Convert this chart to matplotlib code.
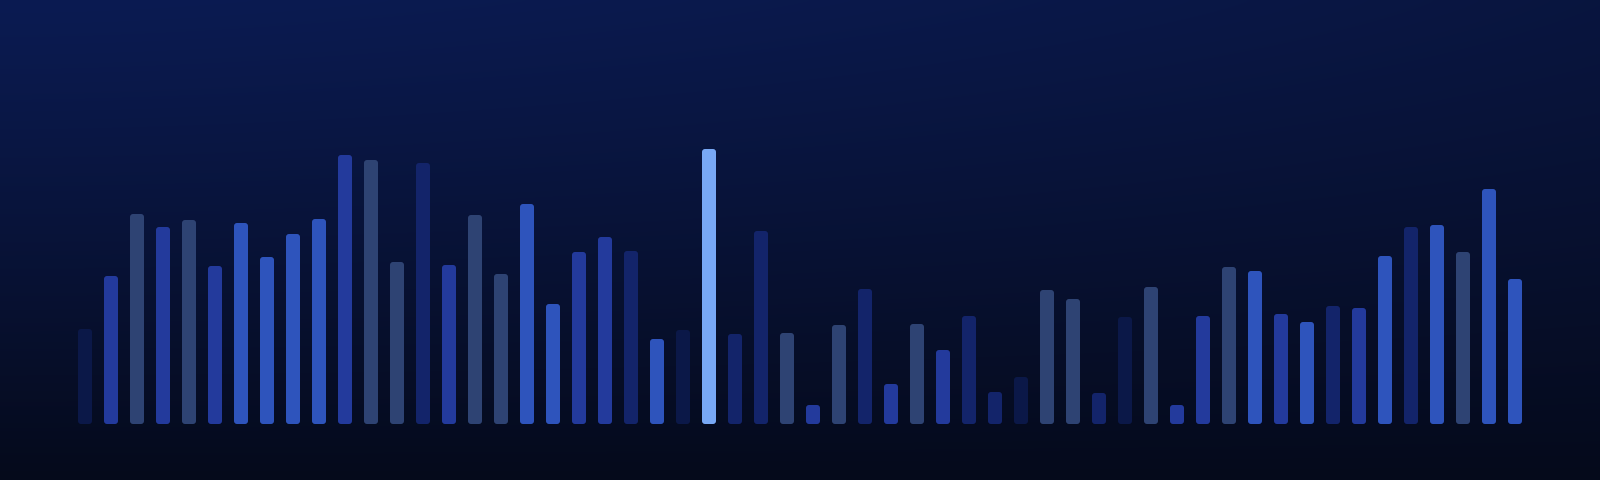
import numpy as np
import matplotlib
matplotlib.use("Agg")
import matplotlib.pyplot as plt
from matplotlib.patches import FancyBboxPatch
from matplotlib.colors import to_rgb

# ---- data ----
values = [95, 148, 210, 197, 204, 158, 201, 167, 190, 205,
          269, 264, 162, 261, 159, 209, 150, 220, 120, 172,
          187, 173, 85, 94, 275, 90, 193, 91, 19, 99,
          135, 40, 100, 74, 108, 32, 47, 134, 125, 31,
          107, 137, 19, 108, 157, 153, 110, 102, 118, 116,
          168, 197, 199, 172, 235, 145]
tones = ["dark", "royal", "slate", "royal", "slate", "royal", "bright", "bright", "bright", "bright",
         "royal", "slate", "slate", "navy", "royal", "slate", "slate", "bright", "bright", "royal",
         "royal", "navy", "bright", "dark", "highlight", "navy", "navy", "slate", "royal", "slate",
         "navy", "royal", "slate", "royal", "navy", "navy", "dark", "slate", "slate", "navy",
         "dark", "slate", "royal", "royal", "slate", "bright", "royal", "bright", "navy", "royal",
         "bright", "navy", "bright", "slate", "bright", "bright"]
palette = {"bright": "#2E54BC", "royal": "#233A9C", "slate": "#2E4373",
           "navy": "#13246A", "dark": "#0B1848", "highlight": "#78A8F5"}

W, H = 1600, 480
fig = plt.figure(figsize=(W / 100, H / 100), dpi=100)

# background gradient
bg = fig.add_axes([0, 0, 1, 1])
bg.set_axis_off()
ny, nx = 240, 400
yy = np.linspace(0, 1, ny)[:, None]
xx = np.linspace(0, 1, nx)[None, :]
top = np.array(to_rgb("#0B1B52"))
bot = np.array(to_rgb("#050A1B"))
t = np.clip(yy ** 1.1 + 0.35 * xx ** 1.6 * (1 - yy) , 0, 1)
img = top[None, None, :] * (1 - t[..., None]) + bot[None, None, :] * t[..., None]
bg.imshow(img, aspect="auto", extent=[0, 1, 0, 1], interpolation="bicubic")
bg.set_xlim(0, 1)
bg.set_ylim(0, 1)

# bars axes: index i -> pixel 85 + 26 i; baseline 56 px above bottom
ax = fig.add_axes([0, 0, 1, 1])
ax.patch.set_alpha(0)
ax.set_axis_off()
x = np.arange(len(values))
ax.set_xlim(-85 / 26, (W - 85) / 26)
ax.set_ylim(-56, H - 56)

bars = ax.bar(x, values, width=14 / 26, color=[palette[c] for c in tones])
r_px = 3.0
for b in bars:
    x0, y0 = b.get_x(), b.get_y()
    w, h = b.get_width(), b.get_height()
    fc = b.get_facecolor()
    b.remove()
    p = FancyBboxPatch((x0, y0), w, h,
                       boxstyle=f"round,pad=0,rounding_size={r_px / 26}",
                       mutation_aspect=26, facecolor=fc, edgecolor="none")
    ax.add_patch(p)

fig.savefig("out.png", dpi=100)
